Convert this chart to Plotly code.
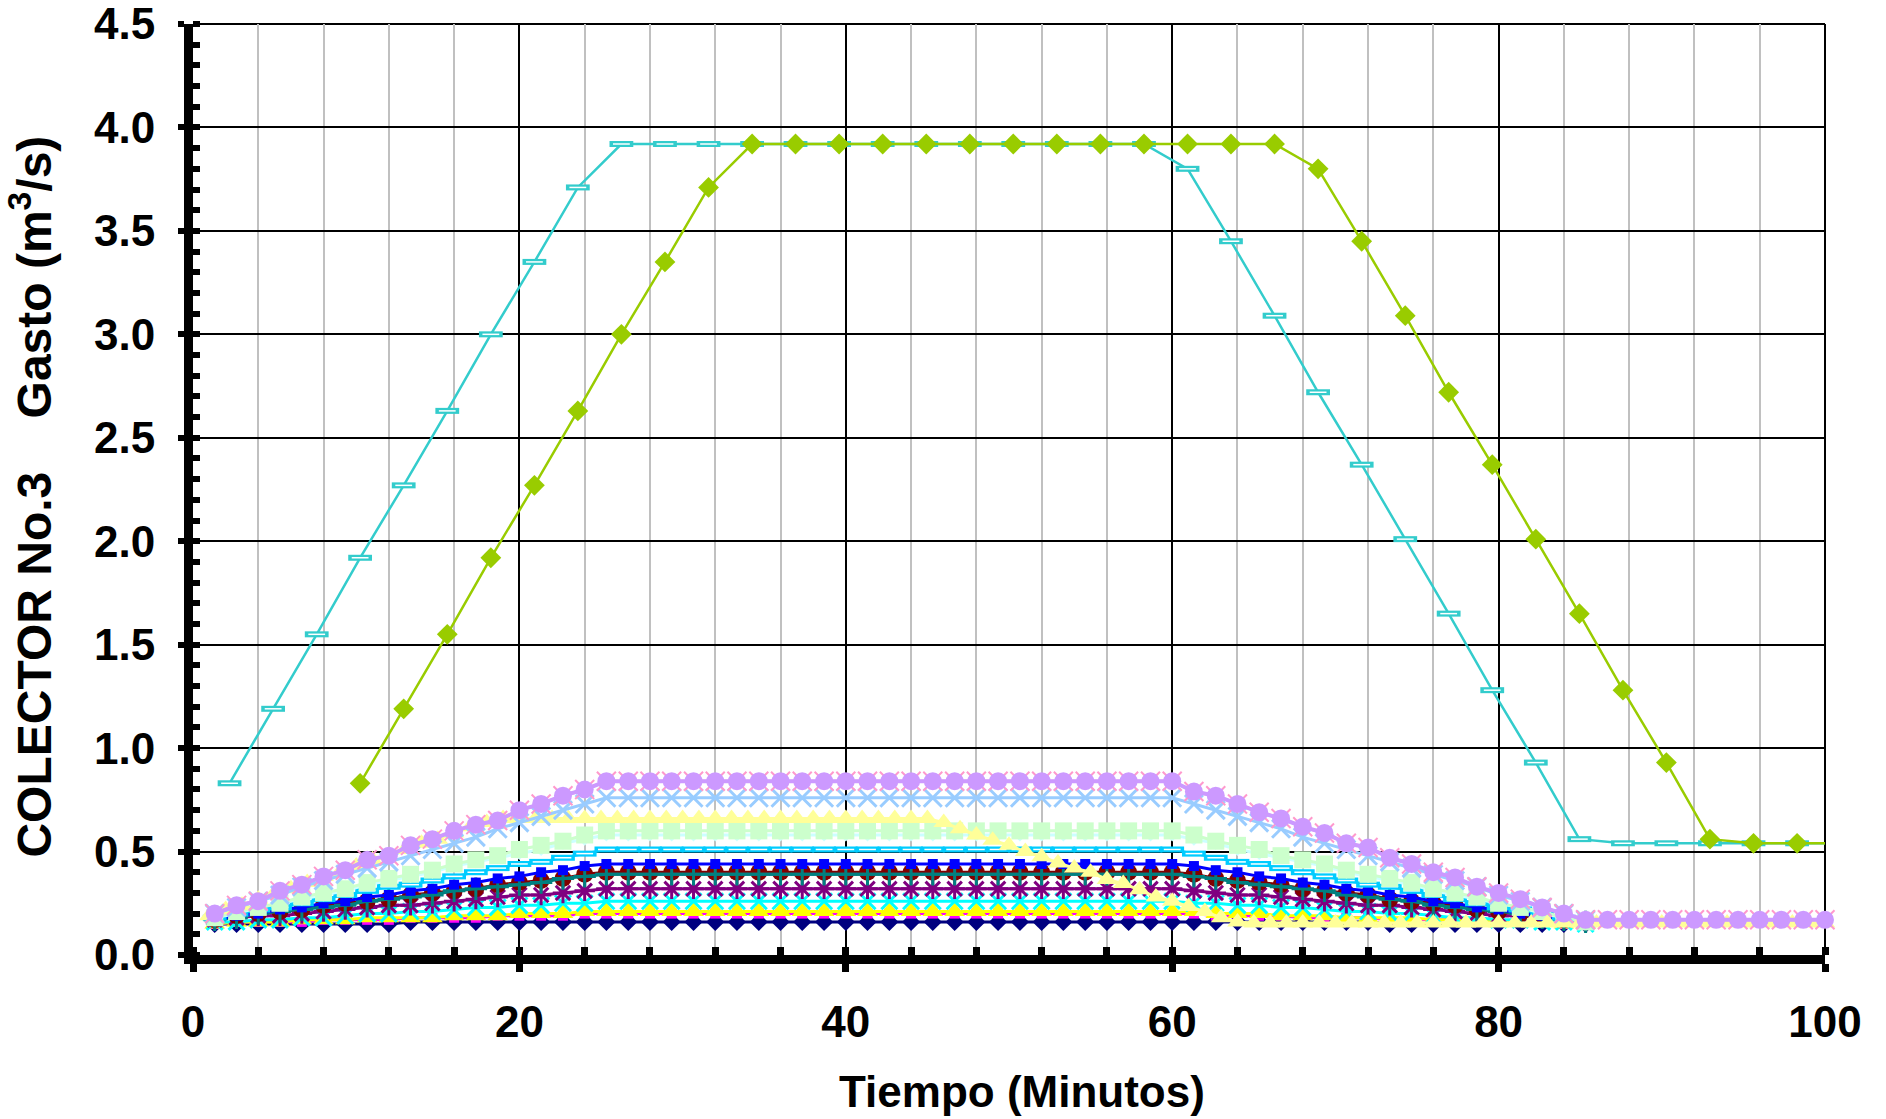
import plotly.graph_objects as go

# time grid of the lower hydrographs (minutes)
t_low = [1.33, 2.67, 4, 5.33, 6.67, 8, 9.33, 10.67, 12, 13.33, 14.67, 16, 17.33, 18.67, 20,
         21.33, 22.67, 24, 25.33, 26.67, 28, 29.33, 30.67, 32, 33.33, 34.67, 36, 37.33, 38.67, 40,
         41.33, 42.67, 44, 45.33, 46.67, 48, 49.33, 50.67, 52, 53.33, 54.67, 56, 57.33, 58.67, 60,
         61.33, 62.67, 64, 65.33, 66.67, 68, 69.33, 70.67, 72, 73.33, 74.67, 76, 77.33, 78.67, 80,
         81.33, 82.67, 84, 85.33, 86.67, 88, 89.33, 90.67, 92, 93.33, 94.67, 96, 97.33, 98.67, 100]

# time grid of the two big hydrographs
t_high = [2.24, 4.91, 7.58, 10.24, 12.91, 15.58, 18.25, 20.92, 23.58, 26.25, 28.92, 31.59, 34.26,
          36.92, 39.59, 42.26, 44.93, 47.60, 50.26, 52.93, 55.60, 58.27, 60.94, 63.60, 66.27, 68.94,
          71.61, 74.28, 76.94, 79.61, 82.28, 84.95, 87.62, 90.28, 92.95, 95.62, 98.29, 100.96]

# one-minute grid of the light yellow series
t_min = list(range(1, 101))

q_navy = [0.15, 0.15, 0.15, 0.15, 0.15, 0.15, 0.15, 0.15, 0.15, 0.16, 0.16, 0.16, 0.16, 0.16, 0.16, 0.16,
          0.16, 0.16, 0.16,
          0.16, 0.16, 0.16, 0.16, 0.16, 0.16, 0.16, 0.16, 0.16, 0.16, 0.16, 0.16, 0.16, 0.16, 0.16, 0.16,
          0.16, 0.16, 0.16, 0.16, 0.16, 0.16, 0.16, 0.16, 0.16, 0.16,
          0.16, 0.16, 0.16, 0.16, 0.16, 0.16, 0.16, 0.16, 0.16, 0.15, 0.15, 0.15, 0.15, 0.15, 0.15, 0.15,
          0.15, 0.15, 0.15]
q_magenta = [0.15, 0.16, 0.16, 0.16, 0.16, 0.17, 0.17, 0.17, 0.17, 0.18, 0.18, 0.18, 0.18, 0.19, 0.19,
             0.19, 0.19, 0.20, 0.20,
             0.20, 0.20, 0.20, 0.20, 0.20, 0.20, 0.20, 0.20, 0.20, 0.20, 0.20, 0.20, 0.20, 0.20, 0.20,
             0.20, 0.20, 0.20, 0.20, 0.20, 0.20, 0.20, 0.20, 0.20, 0.20, 0.20,
             0.20, 0.19, 0.19, 0.19, 0.19, 0.18, 0.18, 0.18, 0.18, 0.17, 0.17, 0.17, 0.17, 0.16, 0.16,
             0.16, 0.16, 0.15, 0.15]
q_yellow = [0.15, 0.16, 0.16, 0.16, 0.17, 0.17, 0.17, 0.18, 0.18, 0.18, 0.18, 0.19, 0.19, 0.19, 0.20,
            0.20, 0.20, 0.21, 0.21,
            0.21, 0.21, 0.21, 0.21, 0.21, 0.21, 0.21, 0.21, 0.21, 0.21, 0.21, 0.21, 0.21, 0.21, 0.21,
            0.21, 0.21, 0.21, 0.21, 0.21, 0.21, 0.21, 0.21, 0.21, 0.21, 0.21,
            0.21, 0.20, 0.20, 0.20, 0.19, 0.19, 0.19, 0.18, 0.18, 0.18, 0.18, 0.17, 0.17, 0.17, 0.16,
            0.16, 0.16, 0.15, 0.15]
q_cyan = [0.16, 0.16, 0.17, 0.17, 0.18, 0.18, 0.19, 0.20, 0.20, 0.21, 0.21, 0.22, 0.23, 0.23, 0.24,
          0.24, 0.25, 0.25, 0.26,
          0.26, 0.26, 0.26, 0.26, 0.26, 0.26, 0.26, 0.26, 0.26, 0.26, 0.26, 0.26, 0.26, 0.26, 0.26,
          0.26, 0.26, 0.26, 0.26, 0.26, 0.26, 0.26, 0.26, 0.26, 0.26, 0.26,
          0.25, 0.25, 0.24, 0.24, 0.23, 0.23, 0.22, 0.21, 0.21, 0.20, 0.20, 0.19, 0.18, 0.18, 0.17,
          0.17, 0.16, 0.16, 0.15]
q_purple = [0.17, 0.18, 0.19, 0.19, 0.20, 0.21, 0.22, 0.23, 0.24, 0.24, 0.25, 0.26, 0.27, 0.28, 0.29,
            0.29, 0.30, 0.31, 0.32,
            0.32, 0.32, 0.32, 0.32, 0.32, 0.32, 0.32, 0.32, 0.32, 0.32, 0.32, 0.32, 0.32, 0.32, 0.32,
            0.32, 0.32, 0.32, 0.32, 0.32, 0.32, 0.32, 0.32, 0.32, 0.32, 0.32,
            0.31, 0.30, 0.29, 0.29, 0.28, 0.27, 0.26, 0.25, 0.24, 0.24, 0.23, 0.22, 0.21, 0.20, 0.19,
            0.19, 0.18, 0.17, 0.16]
q_darkred = [0.17, 0.19, 0.20, 0.21, 0.22, 0.24, 0.25, 0.26, 0.27, 0.29, 0.30, 0.31, 0.32, 0.34, 0.35,
             0.36, 0.37, 0.39, 0.40,
             0.40, 0.40, 0.40, 0.40, 0.40, 0.40, 0.40, 0.40, 0.40, 0.40, 0.40, 0.40, 0.40, 0.40, 0.40,
             0.40, 0.40, 0.40, 0.40, 0.40, 0.40, 0.40, 0.40, 0.40, 0.40, 0.40,
             0.39, 0.37, 0.36, 0.35, 0.34, 0.32, 0.31, 0.30, 0.29, 0.27, 0.26, 0.25, 0.24, 0.22, 0.21,
             0.20, 0.19, 0.17, 0.16]
q_teal = [0.17, 0.18, 0.20, 0.21, 0.22, 0.23, 0.24, 0.26, 0.27, 0.28, 0.29, 0.31, 0.32, 0.33, 0.34,
          0.35, 0.37, 0.38, 0.39,
          0.39, 0.39, 0.39, 0.39, 0.39, 0.39, 0.39, 0.39, 0.39, 0.39, 0.39, 0.39, 0.39, 0.39, 0.39,
          0.39, 0.39, 0.39, 0.39, 0.39, 0.39, 0.39, 0.39, 0.39, 0.39, 0.39,
          0.38, 0.37, 0.35, 0.34, 0.33, 0.32, 0.31, 0.29, 0.28, 0.27, 0.26, 0.24, 0.23, 0.22, 0.21,
          0.20, 0.18, 0.17, 0.16]
q_blue = [0.17, 0.19, 0.20, 0.22, 0.23, 0.25, 0.26, 0.28, 0.29, 0.31, 0.32, 0.34, 0.35, 0.37, 0.38,
          0.40, 0.41, 0.43, 0.44,
          0.44, 0.44, 0.44, 0.44, 0.44, 0.44, 0.44, 0.44, 0.44, 0.44, 0.44, 0.44, 0.44, 0.44, 0.44,
          0.44, 0.44, 0.44, 0.44, 0.44, 0.44, 0.44, 0.44, 0.44, 0.44, 0.44,
          0.43, 0.41, 0.40, 0.38, 0.37, 0.35, 0.34, 0.32, 0.31, 0.29, 0.28, 0.26, 0.25, 0.23, 0.22,
          0.20, 0.19, 0.17, 0.16]
q_skyblue = [0.18, 0.20, 0.22, 0.23, 0.25, 0.27, 0.29, 0.31, 0.33, 0.34, 0.36, 0.38, 0.40, 0.42, 0.44,
             0.45, 0.47, 0.49, 0.51,
             0.51, 0.51, 0.51, 0.51, 0.51, 0.51, 0.51, 0.51, 0.51, 0.51, 0.51, 0.51, 0.51, 0.51, 0.51,
             0.51, 0.51, 0.51, 0.51, 0.51, 0.51, 0.51, 0.51, 0.51, 0.51, 0.51,
             0.49, 0.47, 0.45, 0.44, 0.42, 0.40, 0.38, 0.36, 0.34, 0.33, 0.31, 0.29, 0.27, 0.25, 0.23,
             0.22, 0.20, 0.18, 0.16]
q_turquoise = [0.18, 0.20, 0.23, 0.25, 0.27, 0.29, 0.31, 0.34, 0.36, 0.38, 0.40, 0.43, 0.45, 0.47, 0.49,
               0.51, 0.54, 0.56, 0.58,
               0.58, 0.58, 0.58, 0.58, 0.58, 0.58, 0.58, 0.58, 0.58, 0.58, 0.58, 0.58, 0.58, 0.58, 0.58,
               0.58, 0.58, 0.58, 0.58, 0.58, 0.58, 0.58, 0.58, 0.58, 0.58, 0.58,
               0.56, 0.54, 0.51, 0.49, 0.47, 0.45, 0.43, 0.40, 0.38, 0.36, 0.34, 0.31, 0.29, 0.27, 0.25,
               0.23, 0.20, 0.18, 0.16]
q_lightgreen = [0.18, 0.21, 0.23, 0.25, 0.28, 0.30, 0.32, 0.35, 0.37, 0.39, 0.41, 0.44, 0.46, 0.48, 0.51,
                0.53, 0.55, 0.58, 0.60,
                0.60, 0.60, 0.60, 0.60, 0.60, 0.60, 0.60, 0.60, 0.60, 0.60, 0.60, 0.60, 0.60, 0.60, 0.60,
                0.60, 0.60, 0.60, 0.60, 0.60, 0.60, 0.60, 0.60, 0.60, 0.60, 0.60,
                0.58, 0.55, 0.53, 0.51, 0.48, 0.46, 0.44, 0.41, 0.39, 0.37, 0.35, 0.32, 0.30, 0.28, 0.25,
                0.23, 0.21, 0.18, 0.16]
q_lightyellow = [0.19, 0.22, 0.24, 0.27, 0.30, 0.32, 0.35, 0.38, 0.40, 0.43, 0.46, 0.48, 0.51, 0.54, 0.56,
                 0.59, 0.62, 0.64, 0.66,
                 0.66, 0.66, 0.66, 0.66, 0.66, 0.66, 0.66, 0.66, 0.66, 0.66, 0.66, 0.66, 0.66, 0.66,
                 0.66, 0.66, 0.66, 0.66, 0.66, 0.66, 0.66, 0.66, 0.66, 0.66, 0.66, 0.66,
                 0.64, 0.61, 0.58, 0.555, 0.53, 0.50, 0.475, 0.445, 0.42, 0.40, 0.365, 0.345, 0.315,
                 0.28, 0.26, 0.235, 0.21, 0.18, 0.16,
                 0.155, 0.155, 0.155, 0.155, 0.155, 0.155, 0.155, 0.155, 0.155, 0.155, 0.155, 0.155,
                 0.155, 0.155, 0.155, 0.155, 0.155, 0.155, 0.155, 0.155, 0.155, 0.155, 0.155, 0.155,
                 0.155, 0.155, 0.155, 0.155, 0.155, 0.155, 0.155, 0.155, 0.155, 0.155, 0.155, 0.155]
q_paleblue = [0.20, 0.23, 0.26, 0.29, 0.33, 0.36, 0.39, 0.42, 0.45, 0.48, 0.51, 0.54, 0.57, 0.61, 0.64,
              0.67, 0.70, 0.73, 0.76,
              0.76, 0.76, 0.76, 0.76, 0.76, 0.76, 0.76, 0.76, 0.76, 0.76, 0.76, 0.76, 0.76, 0.76, 0.76,
              0.76, 0.76, 0.76, 0.76, 0.76, 0.76, 0.76, 0.76, 0.76, 0.76, 0.76,
              0.73, 0.70, 0.67, 0.64, 0.61, 0.57, 0.54, 0.51, 0.48, 0.45, 0.42, 0.39, 0.36, 0.33, 0.29,
              0.26, 0.23, 0.20, 0.17]
q_lavender = [0.20, 0.24, 0.26, 0.31, 0.34, 0.38, 0.41, 0.46, 0.48, 0.53, 0.56, 0.60, 0.63, 0.65, 0.70,
              0.73, 0.77, 0.80, 0.84,
              0.84, 0.84, 0.84, 0.84, 0.84, 0.84, 0.84, 0.84, 0.84, 0.84, 0.84, 0.84, 0.84, 0.84, 0.84,
              0.84, 0.84, 0.84, 0.84, 0.84, 0.84, 0.84, 0.84, 0.84, 0.84, 0.84,
              0.79, 0.77, 0.73, 0.69, 0.66, 0.62, 0.59, 0.54, 0.52, 0.47, 0.44, 0.40, 0.375, 0.33, 0.30,
              0.27, 0.23, 0.20,
              0.17, 0.17, 0.17, 0.17, 0.17, 0.17, 0.17, 0.17, 0.17, 0.17, 0.17, 0.17]
q_rose = q_lavender

q_aqua = [0.83, 1.19, 1.55, 1.92, 2.27, 2.63, 3.00, 3.35, 3.71, 3.92,
          3.92, 3.92, 3.92, 3.92, 3.92, 3.92, 3.92, 3.92, 3.92, 3.92, 3.92, 3.92,
          3.80, 3.45, 3.09, 2.72, 2.37, 2.01, 1.65, 1.28, 0.93, 0.56,
          0.54, 0.54, 0.54, 0.54, 0.54, 0.54]
q_lime = [0.83, 1.19, 1.55, 1.92, 2.27, 2.63, 3.00, 3.35, 3.71,
          3.92, 3.92, 3.92, 3.92, 3.92, 3.92, 3.92, 3.92, 3.92, 3.92, 3.92, 3.92, 3.92,
          3.80, 3.45, 3.09, 2.72, 2.37, 2.01, 1.65, 1.28, 0.93, 0.56, 0.54, 0.54, 0.54]

x_ticks = [0, 20, 40, 60, 80, 100]
y_ticks = [0.0, 0.5, 1.0, 1.5, 2.0, 2.5, 3.0, 3.5, 4.0, 4.5]

fig = go.Figure()


def add_series(x, y, color, symbol, size, width=3, outline=None, outline_w=3, clip=False):
    marker = dict(symbol=symbol, size=size, color=color)
    if outline:
        marker["line"] = dict(color=outline, width=outline_w)
    fig.add_trace(go.Scatter(
        x=x[:len(y)], y=y, mode="lines+markers",
        line=dict(color=color, width=width),
        marker=marker, cliponaxis=clip,
    ))


def add_bar_marker(x, y, color, size, clip=False):
    # open rectangle marker: thick dash with a thin white core
    fig.add_trace(go.Scatter(
        x=x[:len(y)], y=y, mode="lines+markers", line=dict(color=color, width=2.5),
        marker=dict(symbol="line-ew", size=size, line=dict(color=color, width=6)),
        cliponaxis=clip,
    ))
    fig.add_trace(go.Scatter(
        x=x[:len(y)], y=y, mode="markers",
        marker=dict(symbol="line-ew", size=size - 5, line=dict(color="white", width=1.5)),
        cliponaxis=clip,
    ))


add_series(t_low, q_navy, "#000080", "diamond", 14)
add_series(t_low, q_magenta, "#FF00FF", "square", 10)
add_series(t_low, q_yellow, "#FFFF00", "triangle-up", 18)
add_series(t_low, q_cyan, "#00FFFF", "x-thin", 16, outline="#00FFFF")
add_series(t_low, q_purple, "#800080", "asterisk", 17, outline="#800080")
add_series(t_low, q_darkred, "#800000", "circle", 17)
add_series(t_low, q_teal, "#008080", "cross-thin", 16, outline="#008080")
add_series(t_low, q_blue, "#0000FF", "square", 10)
add_bar_marker(t_low, q_skyblue, "#00CCFF", 17)
add_series(t_low, q_turquoise, "#CCFFFF", "diamond", 10)
add_series(t_low, q_lightgreen, "#CCFFCC", "square", 17)
add_series(t_min, q_lightyellow, "#FFFF99", "triangle-up", 18)
add_series(t_low, q_paleblue, "#99CCFF", "x-thin", 18, outline="#99CCFF")
add_series(t_low, q_rose, "#FF99CC", "x-thin", 19, outline="#FF99CC", outline_w=2)
add_series(t_low, q_lavender, "#CC99FF", "circle", 18, width=4)
add_bar_marker(t_high, q_aqua, "#33CCCC", 17, clip=True)
fig.add_trace(go.Scatter(
    x=t_high[3:], y=q_lime, mode="lines+markers", line=dict(color="#99CC00", width=2.5),
    marker=dict(symbol="diamond", size=16, color="#99CC00"),
))

bold = dict(family="Liberation Sans, Arial, sans-serif", size=44, color="black", weight=700)
bold_title = dict(bold, size=48)

fig.update_layout(
    width=1886, height=1119,
    margin=dict(l=193, r=61, t=24, b=164),
    paper_bgcolor="white", plot_bgcolor="white",
    showlegend=False,
    font=bold,
    xaxis=dict(
        range=[0, 100], tickvals=x_ticks, ticktext=[str(v) for v in x_ticks],
        showgrid=True, gridcolor="black", gridwidth=2,
        showline=True, linecolor="black", linewidth=9, zeroline=False,
        ticks="outside", ticklen=8, tickwidth=7, tickcolor="black",
        ticklabelstandoff=12, tickfont=bold, automargin=False, ticklabeloverflow="allow",
        minor=dict(dtick=4, tick0=0, showgrid=True, gridcolor="#C0C0C0", gridwidth=2,
                   ticks="inside", ticklen=8, tickwidth=7, tickcolor="black"),
    ),
    yaxis=dict(
        range=[0, 4.5], tickvals=y_ticks, ticktext=["%.1f" % v for v in y_ticks],
        showgrid=True, gridcolor="black", gridwidth=2,
        showline=True, linecolor="black", linewidth=9, zeroline=False,
        ticks="outside", ticklen=6, tickwidth=6, tickcolor="black",
        ticklabelstandoff=14, tickfont=bold, automargin=False, ticklabeloverflow="allow",
        minor=dict(dtick=0.1, tick0=0, showgrid=False,
                   ticks="inside", ticklen=7, tickwidth=6, tickcolor="black"),
    ),
    shapes=[
        dict(type="line", xref="paper", yref="paper", x0=1, x1=1, y0=0, y1=1,
             line=dict(color="black", width=2), layer="below"),
        dict(type="line", xref="paper", yref="paper", x0=0, x1=1, y0=1, y1=1,
             line=dict(color="black", width=2), layer="below"),
    ],
    annotations=[
        dict(text="Tiempo (Minutos)", xref="paper", yref="paper", x=0.508, y=-0.147,
             xanchor="center", yanchor="middle", showarrow=False, font=bold),
        dict(text="COLECTOR No.3" + "\u00a0" * 4 + "Gasto (m<sup>3</sup>/s)",
             xref="paper", yref="paper", x=-0.0995, y=0.492, textangle=-90,
             xanchor="center", yanchor="middle", showarrow=False, font=bold_title),
    ],
)

# drop the default page margin so the figure fills the window exactly
fig.write_html("out.html", config={"displayModeBar": False},
               post_script="document.body.style.margin = '0';")
